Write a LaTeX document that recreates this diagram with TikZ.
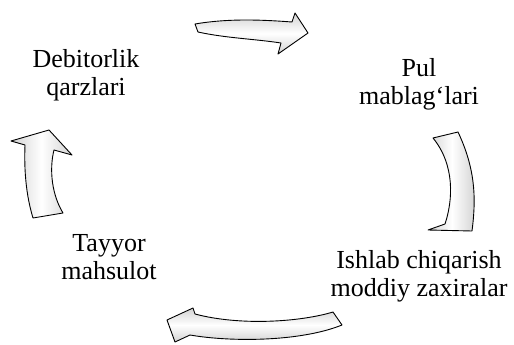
\documentclass[tikz,border=0pt]{standalone}
\usepackage{fontspec}
\setmainfont{Liberation Serif}
\usepackage{tikz}
\usetikzlibrary{positioning}

\begin{document}
\begin{tikzpicture}[x=1pt, y=-1pt,
  lbl/.style={align=center, inner sep=0pt, font=\fontsize{26}{28}\selectfont},
  harr/.style={draw, line width=0.9pt, line join=round, top color=gray!35, bottom color=gray!35, middle color=white},
  varr/.style={draw, line width=0.9pt, line join=round, left color=gray!35, right color=gray!35, middle color=white}]
  \useasboundingbox (0,0) rectangle (514,345);
  \node[lbl] (deb) at (86,75) {Debitorlik\\qarzlari};
  \node[lbl] (pul) at (419,84) {Pul\\mablag`lari};
  \node[lbl] (ish) at (419,276) {Ishlab chiqarish\\moddiy zaxiralar};
  \node[lbl] (tay) at (109,257) {Tayyor\\mahsulot};
  % cycle arrows
  \path[harr] (195,24) .. controls (230,18) and (265,20) .. (292,22) -- (295,13) -- (308,33) -- (278,54) -- (281,43)
    .. controls (255,39) and (225,38) .. (198,32) -- cycle;
  \path[varr] (433,138) -- (458,132) .. controls (476,170) and (476,200) .. (472,231) -- (428,230) -- (445,224)
    .. controls (453,200) and (455,165) .. cycle;
  \path[harr] (167,320) -- (193,308) -- (195,314) .. controls (240,326) and (300,322) .. (333,312) -- (342,325)
    .. controls (300,342) and (230,342) .. (190,335) -- (175,342) -- cycle;
  \path[varr] (33,218) .. controls (26,195) and (24,170) .. (25,145) -- (11,141) -- (49,130) -- (72,155) -- (54,150)
    .. controls (49,170) and (52,195) .. (63,213) -- cycle;
\end{tikzpicture}
\end{document}
